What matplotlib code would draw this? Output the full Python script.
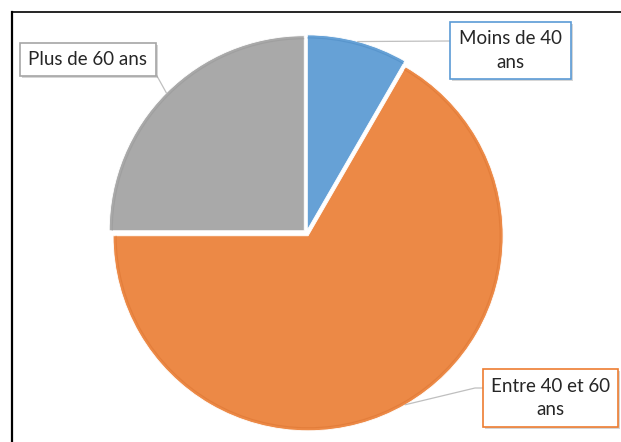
import matplotlib.pyplot as plt
import numpy as np
from matplotlib import patheffects as pe
from matplotlib.patches import Arc, Rectangle

# Répartition par tranche d'âge
labels = ["Moins de 40\nans", "Entre 40 et 60\nans", "Plus de 60 ans"]
values = [1, 8, 3]
colors = ["#66A1D6", "#EC8946", "#A9A9A9"]
rim_colors = ["#4F8DC6", "#DD7633", "#999999"]
box_edges = ["#5B9BD5", "#ED7D31", "#A5A5A5"]

W, H = 621, 442

# boîtes des étiquettes : gauche, haut, largeur, hauteur (en pixels depuis le haut)
label_boxes = [(450, 22, 121, 57), (483, 369, 135, 58), (20, 43, 136, 33)]
# points d'accroche des traits de rappel sur les boîtes
leader_ends = [
    [(450, 41)],
    [(475, 388), (483, 388)],
    [(157, 76)],
]

plt.rcParams["font.family"] = ["Lato", "DejaVu Sans"]

fig = plt.figure(figsize=(W / 100, H / 100), dpi=100)
ax = fig.add_axes([0, 0, 1, 1])


def py(y):
    # passage d'une ordonnée "écran" à l'ordonnée des données
    return H - y


wedges, _ = ax.pie(
    values,
    colors=colors,
    startangle=90,
    counterclock=False,
    radius=195,
    center=(306.5, py(233)),
    explode=[3.2] * len(values),
    wedgeprops=dict(edgecolor="white", linewidth=0.6),
    frame=False,
)

ax.set_xlim(0, W)
ax.set_ylim(0, H)
ax.set_aspect("equal")
ax.axis("off")

for wedge, rim in zip(wedges, rim_colors):
    cx, cy = wedge.center
    inner = 2 * (wedge.r - 3)
    ax.add_patch(
        Arc(
            (cx, cy),
            inner,
            inner,
            theta1=wedge.theta1,
            theta2=wedge.theta2,
            color=rim,
            linewidth=0.8,
            alpha=0.6,
        )
    )

for wedge, label, box, edge, ends in zip(
    wedges, labels, label_boxes, box_edges, leader_ends
):
    cx, cy = wedge.center
    mid = np.deg2rad((wedge.theta1 + wedge.theta2) / 2)
    start = (cx + wedge.r * np.cos(mid), cy + wedge.r * np.sin(mid))

    xs = [start[0]] + [p[0] for p in ends]
    ys = [start[1]] + [py(p[1]) for p in ends]
    ax.plot(xs, ys, color="#BFBFBF", linewidth=0.9, zorder=3)

    left, top, width, height = box
    rect = Rectangle(
        (left, py(top + height)),
        width,
        height,
        facecolor="white",
        edgecolor=edge,
        linewidth=1.2,
        zorder=4,
    )
    rect.set_path_effects([
        pe.SimplePatchShadow(offset=(1.5, -1.5), shadow_rgbFace="#8C8C8C", alpha=0.35),
        pe.Normal(),
    ])
    ax.add_patch(rect)

    ax.text(
        left + width / 2,
        py(top + height / 2),
        label,
        ha="center",
        va="center",
        fontsize=13.5,
        color="#262626",
        linespacing=1.45,
        zorder=5,
    )

# cadre noir en haut et à gauche
ax.plot([12, 12], [py(12), py(H + 5)], color="black", linewidth=1.6, clip_on=False)
ax.plot([12, W + 5], [py(12), py(12)], color="black", linewidth=1.2, clip_on=False)

fig.savefig("out.png", dpi=100)
